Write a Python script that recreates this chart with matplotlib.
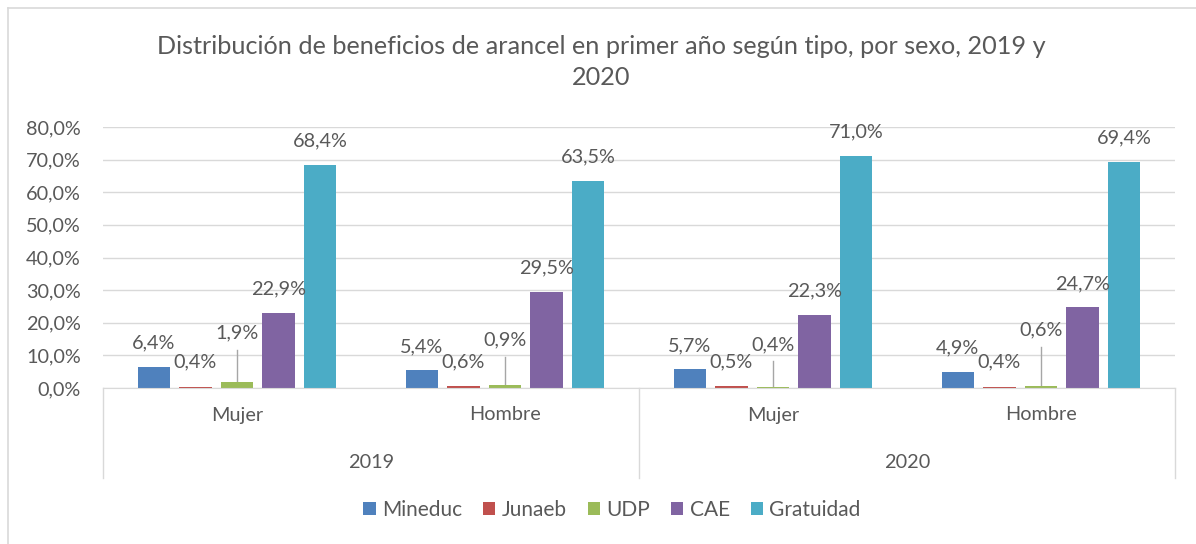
import matplotlib
matplotlib.use("Agg")
import matplotlib.pyplot as plt
import matplotlib.transforms as mtransforms
from matplotlib.ticker import FuncFormatter
from matplotlib.lines import Line2D

# ---- data ----
years = ["2019", "2020"]
sexes = ["Mujer", "Hombre", "Mujer", "Hombre"]
series_names = ["Mineduc", "Junaeb", "UDP", "CAE", "Gratuidad"]
mineduc = [6.4, 5.4, 5.7, 4.9]
junaeb = [0.4, 0.6, 0.5, 0.4]
udp = [1.9, 0.9, 0.4, 0.6]
cae = [22.9, 29.5, 22.3, 24.7]
gratuidad = [68.4, 63.5, 71.0, 69.4]
yticks = [0, 10, 20, 30, 40, 50, 60, 70, 80]
title = "Distribución de beneficios de arancel en primer año según tipo, por sexo, 2019 y\n2020"

# ---- style / layout ----
colors = ["#4F81BD", "#C0504D", "#9BBB59", "#8064A2", "#4BACC6"]
txt = "#595959"
grid_c = "#D9D9D9"
FONT = "Lato"
plt.rcParams["font.family"] = [FONT, "DejaVu Sans"]
FS = 14.3

junaeb_label_y = [8.0, 8.0, 8.0, 8.0]
udp_label_y = [16.9, 14.7, 13.2, 17.8]
udp_leader_top = [11.7, 9.5, 8.3, 12.6]

W, H = 1196, 544
fig = plt.figure(figsize=(W / 100, H / 100), dpi=100)
ax = fig.add_axes([103 / W, 156 / H, 1072 / W, 261 / H])

slot = 0.155
bw = 0.122
series = [mineduc, junaeb, udp, cae, gratuidad]
xs_group = list(range(len(sexes)))

def fmt(v):
    return f"{v:.1f}".replace(".", ",") + "%"

for k, (name, vals, col) in enumerate(zip(series_names, series, colors)):
    xs = [g + (k - 2) * slot for g in xs_group]
    ax.bar(xs, vals, width=bw, color=col, label=name, zorder=3)
    for i, (x, v) in enumerate(zip(xs, vals)):
        if name == "Junaeb":
            ax.text(x, junaeb_label_y[i], fmt(v), ha="center", va="center",
                    fontsize=FS, color=txt, zorder=4)
        elif name == "UDP":
            ax.text(x, udp_label_y[i], fmt(v), ha="center", va="center",
                    fontsize=FS, color=txt, zorder=4)
            ax.plot([x, x], [v, udp_leader_top[i]], color="#A6A6A6", lw=1, zorder=2)
        else:
            ax.annotate(fmt(v), (x, v), xytext=(0, 24), textcoords="offset pixels",
                        ha="center", va="center", fontsize=FS, color=txt, zorder=4)

ax.set_xlim(-0.5, len(sexes) - 0.5)
ax.set_ylim(0, 80)
ax.set_yticks(yticks)
ax.yaxis.set_major_formatter(FuncFormatter(lambda v, p: f"{v:.1f}".replace(".", ",") + "%"))
ax.tick_params(axis="y", length=0, pad=16, labelsize=FS, labelcolor=txt)
ax.set_xticks([])
ax.grid(axis="y", color=grid_c, lw=1, zorder=0)
for s in ["top", "right", "left"]:
    ax.spines[s].set_visible(False)
ax.spines["bottom"].set_color(grid_c)
ax.spines["bottom"].set_zorder(5)

# multi-level category axis
tr = mtransforms.blended_transform_factory(ax.transData, ax.transAxes)
box_bottom = -90 / 261
for xv in [-0.5, 1.5, 3.5]:
    ax.add_line(Line2D([xv, xv], [0, box_bottom], transform=tr, color=grid_c,
                       lw=1, clip_on=False))
for i, s in enumerate(sexes):
    ax.text(i, -27 / 261, s, transform=tr, ha="center", va="center",
            fontsize=FS, color=txt)
for j, y in enumerate(years):
    ax.text(2 * j + 0.5, -75 / 261, y, transform=tr, ha="center", va="center",
            fontsize=FS, color=txt)

# title
fig.text(601 / W, 1 - 62 / H, title, ha="center", va="center", fontsize=18.2,
         color=txt, linespacing=1.42)

# legend
leg = fig.legend(loc="center", bbox_to_anchor=(612 / W, 1 - 510 / H), ncol=5,
                 frameon=False, fontsize=15, handlelength=0.6, handleheight=0.6,
                 handletextpad=0.3, columnspacing=1.0)
for t in leg.get_texts():
    t.set_color(txt)

# chart border (top and left visible)
fig.add_artist(Line2D([8 / W, 1], [1 - 8 / H, 1 - 8 / H], transform=fig.transFigure,
                      color=grid_c, lw=1.2))
fig.add_artist(Line2D([8 / W, 8 / W], [0, 1 - 8 / H], transform=fig.transFigure,
                      color=grid_c, lw=1.2))

fig.savefig("out.png", dpi=100)
